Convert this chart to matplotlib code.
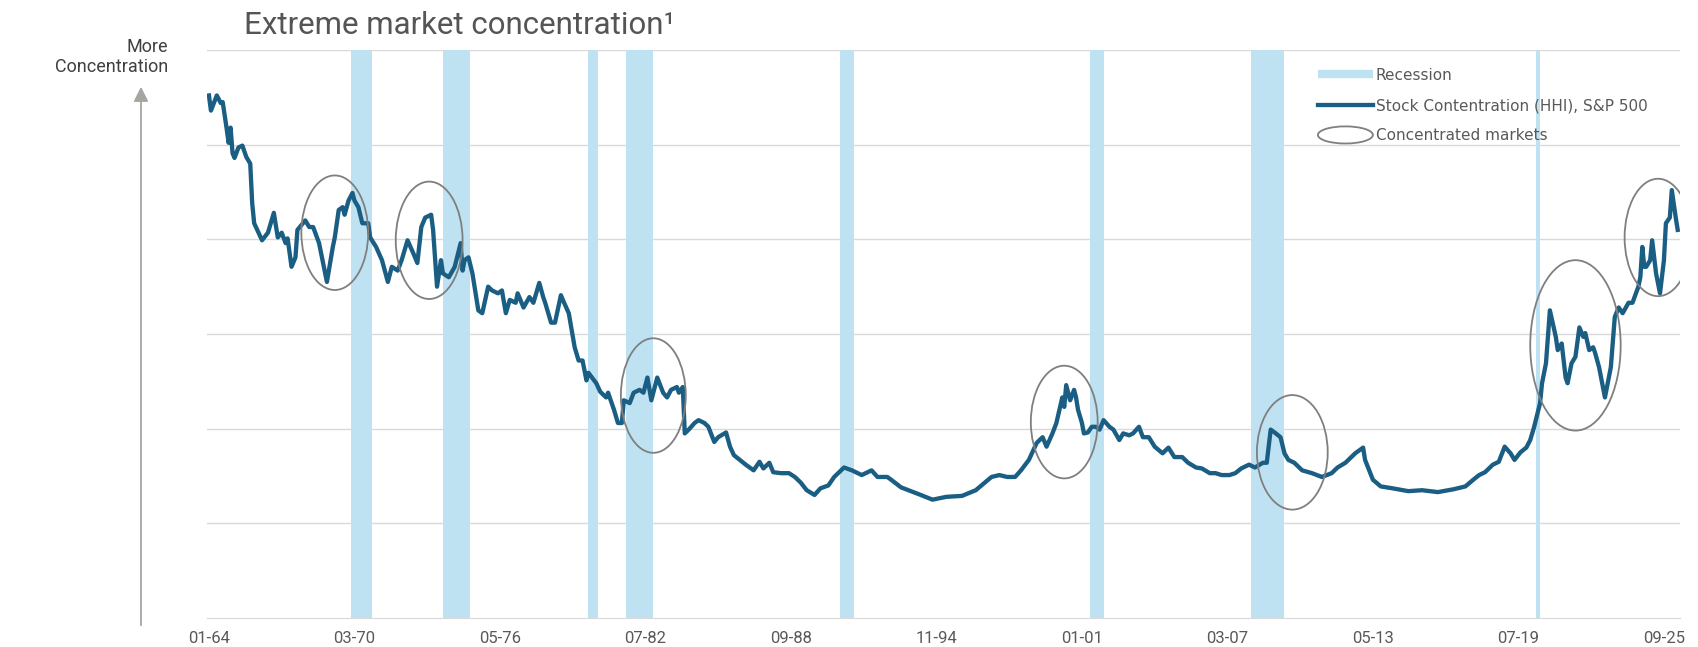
import matplotlib
matplotlib.use("Agg")
import matplotlib.pyplot as plt
import matplotlib.patches as mpatches
from matplotlib.lines import Line2D
from matplotlib.legend_handler import HandlerPatch

# month index counted from Jan 1964
months = [0, 1, 4, 6, 7, 9, 10, 11, 12, 13,
          15, 17, 19, 21, 22, 23, 27, 30, 33, 35,
          37, 39, 40, 42, 44, 45, 49, 51, 53, 56,
          60, 63, 64, 66, 68, 69, 71, 73, 74, 76,
          78, 81, 82, 85, 88, 91, 93, 96, 98, 101,
          104, 106, 108, 110, 113, 114, 116, 118, 119, 122,
          125, 128, 129, 130, 132, 134, 137, 139, 142, 144,
          147, 149, 151, 153, 156, 157, 160, 163, 165, 168,
          170, 171, 174, 176, 179, 180, 183, 186, 188, 190,
          192, 193, 197, 199, 202, 203, 206, 208, 210, 211,
          214, 216, 219, 221, 223, 225, 226, 228, 231, 233,
          235, 238, 239, 241, 242, 244, 247, 249, 252, 254,
          257, 259, 263, 265, 267, 270, 273, 277, 280, 282,
          285, 287, 291, 295, 298, 301, 304, 308, 311, 315,
          318, 323, 327, 332, 337, 340, 345, 347, 352, 357,
          362, 368, 375, 383, 390, 398, 402, 406, 410, 413,
          417, 421, 424, 426, 429, 431, 434, 435, 436, 438,
          440, 441, 442, 444, 445, 447, 449, 451, 453, 455,
          458, 460, 463, 465, 468, 470, 473, 475, 478, 481,
          485, 488, 491, 495, 498, 502, 505, 509, 512, 515,
          519, 522, 525, 529, 532, 536, 538, 540, 542, 545,
          547, 549, 552, 556, 561, 566, 571, 574, 578, 583,
          587, 588, 592, 596, 602, 610, 617, 625, 633, 639,
          643, 646, 649, 653, 656, 659, 662, 664, 667, 670,
          672, 674, 677, 678, 680, 682, 685, 686, 688, 690,
          691, 693, 695, 697, 699, 700, 702, 704, 705, 707,
          710, 713, 715, 717, 719, 722, 724, 727, 728, 729,
          730, 731, 733, 734, 736, 738, 740, 741, 743, 744, 746, 747]

hhi = [5.52, 5.36, 5.52, 5.44, 5.45, 5.17, 5.02, 5.18, 4.91, 4.86,
       4.97, 4.99, 4.87, 4.80, 4.38, 4.17, 3.99, 4.07, 4.28, 4.02,
       4.07, 3.96, 4.01, 3.71, 3.81, 4.10, 4.20, 4.13, 4.13, 3.96,
       3.55, 3.92, 4.02, 4.31, 4.34, 4.26, 4.41, 4.49, 4.41, 4.34,
       4.17, 4.17, 4.02, 3.92, 3.78, 3.55, 3.71, 3.67, 3.78, 3.99,
       3.85, 3.75, 4.13, 4.23, 4.26, 4.10, 3.50, 3.78, 3.64, 3.60,
       3.71, 3.96, 3.67, 3.78, 3.81, 3.64, 3.25, 3.22, 3.50, 3.46,
       3.43, 3.46, 3.22, 3.36, 3.33, 3.43, 3.28, 3.39, 3.33, 3.54,
       3.39, 3.33, 3.12, 3.12, 3.41, 3.36, 3.22, 2.86, 2.72, 2.72,
       2.51, 2.59, 2.48, 2.39, 2.33, 2.38, 2.20, 2.06, 2.06, 2.30,
       2.27, 2.38, 2.41, 2.38, 2.54, 2.30, 2.38, 2.54, 2.38, 2.33,
       2.41, 2.44, 2.38, 2.44, 1.95, 1.99, 2.06, 2.09, 2.06, 2.02,
       1.86, 1.91, 1.96, 1.81, 1.72, 1.67, 1.62, 1.56, 1.65, 1.58,
       1.64, 1.54, 1.53, 1.53, 1.49, 1.43, 1.35, 1.30, 1.37, 1.40,
       1.49, 1.59, 1.56, 1.51, 1.56, 1.49, 1.49, 1.46, 1.38, 1.34,
       1.30, 1.25, 1.28, 1.29, 1.35, 1.49, 1.51, 1.49, 1.49, 1.56,
       1.67, 1.85, 1.91, 1.81, 1.95, 2.06, 2.33, 2.23, 2.46, 2.30,
       2.41, 2.33, 2.20, 2.06, 1.95, 1.96, 2.02, 2.02, 1.99, 2.09,
       2.02, 1.99, 1.88, 1.95, 1.93, 1.95, 2.02, 1.91, 1.91, 1.81,
       1.74, 1.80, 1.70, 1.70, 1.64, 1.59, 1.58, 1.53, 1.53, 1.51,
       1.51, 1.53, 1.58, 1.62, 1.59, 1.64, 1.64, 1.99, 1.96, 1.91,
       1.74, 1.67, 1.64, 1.56, 1.53, 1.49, 1.53, 1.59, 1.64, 1.74,
       1.80, 1.67, 1.46, 1.39, 1.37, 1.34, 1.35, 1.33, 1.36, 1.39,
       1.46, 1.51, 1.54, 1.62, 1.65, 1.81, 1.74, 1.67, 1.75, 1.80,
       1.88, 2.02, 2.27, 2.48, 2.69, 3.25, 2.97, 2.83, 2.90, 2.54,
       2.48, 2.69, 2.76, 3.07, 2.97, 3.01, 2.83, 2.86, 2.80, 2.65,
       2.33, 2.65, 3.18, 3.28, 3.22, 3.33, 3.33, 3.50, 3.60, 3.92,
       3.71, 3.71, 3.78, 3.99, 3.64, 3.43, 3.78, 4.17, 4.23, 4.52, 4.23, 4.10]

# recession periods (start month, end month)
rec_start = [72, 119, 193, 212, 321, 448, 530, 675]
rec_end = [83, 133, 198, 226, 328, 455, 547, 677]

# circled "concentrated markets" episodes
circ_month = [64, 112, 226, 435, 551, 695, 737]
circ_value = [4.07, 3.99, 2.35, 2.07, 1.75, 2.88, 4.02]
circ_w = [34, 34, 33, 34, 36, 46, 34]
circ_h = [1.21, 1.24, 1.21, 1.19, 1.21, 1.80, 1.24]

tick_labels = ['01-64', '03-70', '05-76', '07-82', '09-88', '11-94',
               '01-01', '03-07', '05-13', '07-19', '09-25']

line_color = '#1a5e84'
rec_color = '#bfe2f3'
circ_color = '#7f7f7f'
text_color = '#404040'


def label_to_month(lbl):
    mm, yy = lbl.split('-')
    yy = int(yy)
    year = 1900 + yy if yy >= 64 else 2000 + yy
    return (year - 1964) * 12 + int(mm) - 1


class HandlerEllipse(HandlerPatch):
    def create_artists(self, legend, orig_handle, xdescent, ydescent,
                       width, height, fontsize, trans):
        center = 0.5 * width - 0.5 * xdescent, 0.5 * height - 0.5 * ydescent
        p = mpatches.Ellipse(xy=center, width=width + xdescent,
                             height=1.6 * height + ydescent)
        self.update_prop(p, orig_handle, legend)
        p.set_transform(trans)
        return [p]


fig = plt.figure(figsize=(16.98, 6.47), dpi=100)
ax = fig.add_axes([0.1219, 0.0448, 0.8673, 0.8779])

for s, e in zip(rec_start, rec_end):
    ax.axvspan(s, e, color=rec_color, lw=0, zorder=1)

ax.plot(months, hhi, color=line_color, lw=3.1, zorder=3,
        solid_joinstyle='round')

for cm, cv, w, h in zip(circ_month, circ_value, circ_w, circ_h):
    ax.add_patch(mpatches.Ellipse((cm, cv), w, h, fill=False,
                                  edgecolor=circ_color, lw=1.3, zorder=4))

ax.set_xlim(-1, 748)
ax.set_ylim(0, 6)
ax.set_yticks(range(1, 7))
ax.set_yticklabels([])
ax.grid(axis='y', color='#d9d9d9', lw=1)
ax.set_axisbelow(True)
for sp in ['top', 'right', 'left']:
    ax.spines[sp].set_visible(False)
ax.spines['bottom'].set_color('#d9d9d9')
ax.tick_params(axis='y', length=0)
ax.set_xticks([label_to_month(l) for l in tick_labels])
ax.set_xticklabels(tick_labels, fontsize=12, color='#595959',
                   family='Roboto')
ax.tick_params(axis='x', length=0, pad=9)

handles = [Line2D([], [], color=rec_color, lw=6, solid_capstyle='butt'),
           Line2D([], [], color=line_color, lw=3.1),
           mpatches.Ellipse((0, 0), 1, 1, fill=False, edgecolor=circ_color, lw=1.3)]
labels = ['Recession', 'Stock Contentration (HHI), S&P 500', 'Concentrated markets']
leg = ax.legend(handles, labels, loc='upper left', bbox_to_anchor=(0.745, 0.993),
                frameon=False, fontsize=11, handlelength=3.6,
                handletextpad=0.2, labelspacing=1.0,
                handler_map={mpatches.Ellipse: HandlerEllipse()})
for t in leg.get_texts():
    t.set_color('#595959')

fig.text(244 / 1698, 1 - 25 / 647, 'Extreme market concentration¹', fontsize=22.5,
         family='Roboto', color='#555555', ha='left', va='center')
fig.text(168 / 1698, 1 - 57 / 647, 'More\nConcentration', fontsize=13,
         family='Roboto', color=text_color, ha='right', va='center',
         multialignment='right', linespacing=1.15)
fig.add_artist(mpatches.FancyArrowPatch((141 / 1698, 1 - 628 / 647),
                                        (141 / 1698, 1 - 84 / 647),
                                        transform=fig.transFigure,
                                        arrowstyle='-|>', mutation_scale=22,
                                        color='#a6a6a0', lw=1.3))

fig.savefig('out.png', dpi=100)
